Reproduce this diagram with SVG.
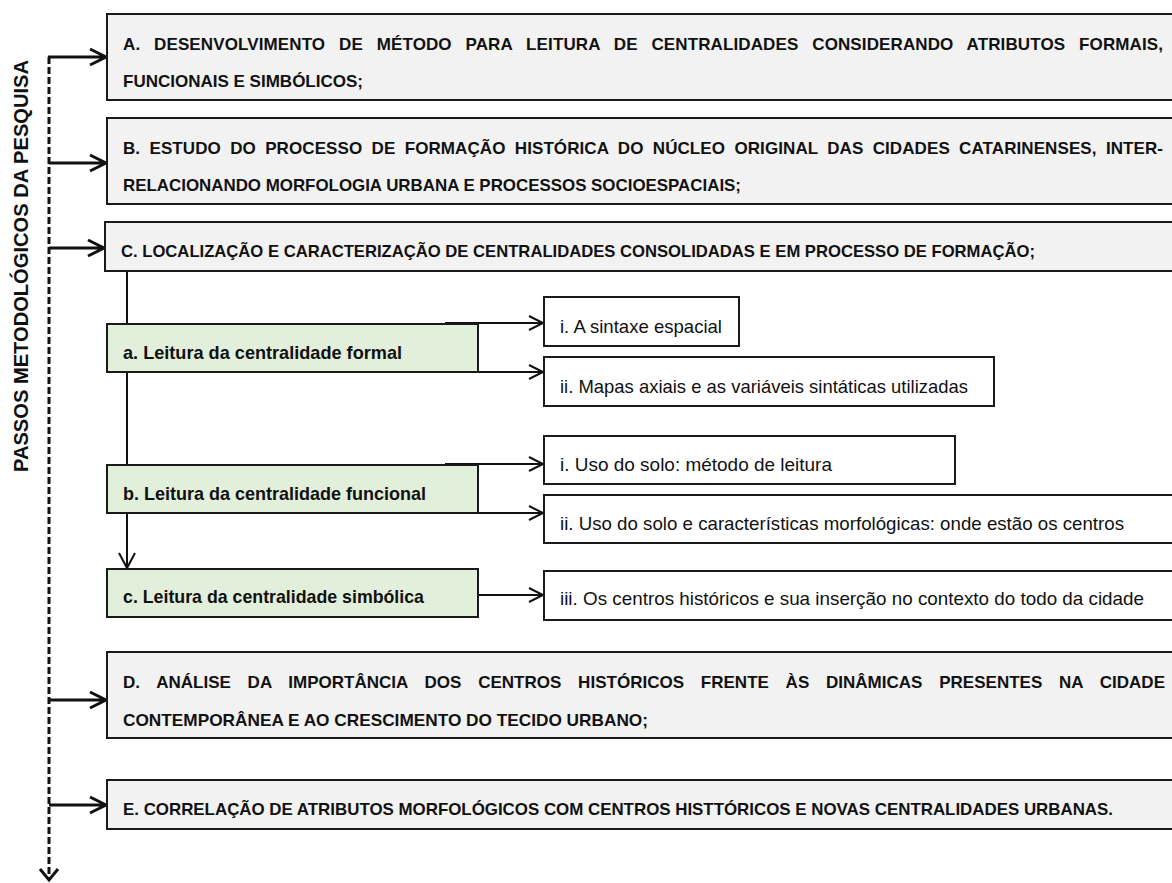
<svg xmlns="http://www.w3.org/2000/svg" width="1172" height="883" viewBox="0 0 1172 883">
<style>
.main{fill:#f2f2f2;stroke:#1a1a1a;stroke-width:2}
.green{fill:#e2efda;stroke:#1a1a1a;stroke-width:2}
.sub{fill:#ffffff;stroke:#1a1a1a;stroke-width:2}
.cap{font-family:"Liberation Sans",Arial,sans-serif;font-weight:bold;font-size:17px;fill:#111}
.gt{font-family:"Liberation Sans",Arial,sans-serif;font-weight:bold;font-size:19px;fill:#111}
.st{font-family:"Liberation Sans",Arial,sans-serif;font-size:19px;fill:#111}
.lbl{font-family:"Liberation Sans",Arial,sans-serif;font-weight:bold;font-size:21px;fill:#111}
.thick{fill:none;stroke:#111;stroke-width:3}
.thin{fill:none;stroke:#111;stroke-width:2}
.dash{fill:none;stroke:#111;stroke-width:3;stroke-dasharray:7 3}
</style>
<rect width="1172" height="883" fill="#ffffff"/>
<g id="label">
<text class="lbl" transform="translate(28,472) rotate(-90)" textLength="412" lengthAdjust="spacingAndGlyphs">PASSOS METODOLÓGICOS DA PESQUISA</text>
</g>
<g id="connectors">
<path class="dash" d="M49,57 V879"/>
<path class="thick" d="M40,869 L49,880 L58,869"/>
<path class="thick" d="M48,57 H105 M90,49 L106,57 L90,65"/>
<path class="thick" d="M49,163 H105 M90,155 L106,163 L90,171"/>
<path class="thick" d="M49,248 H103 M88,240 L104,248 L88,256"/>
<path class="thick" d="M49,700 H105 M90,692 L106,700 L90,708"/>
<path class="thick" d="M49,805 H105 M90,797 L106,805 L90,813"/>
<path class="thin" d="M127,271 V324 M127,372 V465 M127,513 V567 M119,553 L127,568 L135,553"/>
<path class="thin" d="M445,323 H542 M529,316 L543,323 L529,330"/>
<path class="thin" d="M445,372 H542 M529,365 L543,372 L529,379"/>
<path class="thin" d="M445,464 H542 M529,457 L543,464 L529,471"/>
<path class="thin" d="M445,513 H542 M529,506 L543,513 L529,520"/>
<path class="thin" d="M478,595 H542 M529,588 L543,595 L529,602"/>
</g>
<g id="nodeA">
<rect class="main" x="107" y="14" width="1080" height="86"/>
<text class="cap" x="123" y="50" word-spacing="9" textLength="1040" lengthAdjust="spacing">A. DESENVOLVIMENTO DE MÉTODO PARA LEITURA DE CENTRALIDADES CONSIDERANDO ATRIBUTOS FORMAIS,</text>
<text class="cap" x="123" y="87" textLength="240" lengthAdjust="spacingAndGlyphs">FUNCIONAIS E SIMBÓLICOS;</text>
</g>
<g id="nodeB">
<rect class="main" x="107" y="118" width="1080" height="86"/>
<text class="cap" x="123" y="154" word-spacing="4.5" textLength="1040" lengthAdjust="spacing">B. ESTUDO DO PROCESSO DE FORMAÇÃO HISTÓRICA DO NÚCLEO ORIGINAL DAS CIDADES CATARINENSES, INTER-</text>
<text class="cap" x="123" y="191" textLength="618" lengthAdjust="spacingAndGlyphs">RELACIONANDO MORFOLOGIA URBANA E PROCESSOS SOCIOESPACIAIS;</text>
</g>
<g id="nodeC">
<rect class="main" x="105" y="222" width="1082" height="49"/>
<text class="cap" x="121" y="257" textLength="914" lengthAdjust="spacingAndGlyphs">C. LOCALIZAÇÃO E CARACTERIZAÇÃO DE CENTRALIDADES CONSOLIDADAS E EM PROCESSO DE FORMAÇÃO;</text>
</g>
<g id="node-a">
<rect class="green" x="107" y="324" width="371" height="48"/>
<text class="gt" x="123" y="359" textLength="279" lengthAdjust="spacingAndGlyphs">a. Leitura da centralidade formal</text>
</g>
<g id="node-b">
<rect class="green" x="107" y="465" width="371" height="48"/>
<text class="gt" x="123" y="500" textLength="303" lengthAdjust="spacingAndGlyphs">b. Leitura da centralidade funcional</text>
</g>
<g id="node-c">
<rect class="green" x="107" y="569" width="371" height="48"/>
<text class="gt" x="123" y="603" textLength="301" lengthAdjust="spacingAndGlyphs">c. Leitura da centralidade simbólica</text>
</g>
<g id="node-a-i">
<rect class="sub" x="544" y="297" width="195" height="49"/>
<text class="st" x="560" y="333" textLength="162" lengthAdjust="spacingAndGlyphs">i. A sintaxe espacial</text>
</g>
<g id="node-a-ii">
<rect class="sub" x="544" y="357" width="450" height="49"/>
<text class="st" x="560" y="393" textLength="408" lengthAdjust="spacingAndGlyphs">ii. Mapas axiais e as variáveis sintáticas utilizadas</text>
</g>
<g id="node-b-i">
<rect class="sub" x="544" y="436" width="411" height="48"/>
<text class="st" x="560" y="471" textLength="272" lengthAdjust="spacingAndGlyphs">i. Uso do solo: método de leitura</text>
</g>
<g id="node-b-ii">
<rect class="sub" x="544" y="495" width="640" height="48"/>
<text class="st" x="560" y="530" textLength="564" lengthAdjust="spacingAndGlyphs">ii. Uso do solo e características morfológicas: onde estão os centros</text>
</g>
<g id="node-c-iii">
<rect class="sub" x="544" y="571" width="640" height="49"/>
<text class="st" x="560" y="605" textLength="584" lengthAdjust="spacingAndGlyphs">iii. Os centros históricos e sua inserção no contexto do todo da cidade</text>
</g>
<g id="nodeD">
<rect class="main" x="107" y="652" width="1080" height="86"/>
<text class="cap" x="123" y="688" word-spacing="12" textLength="1042" lengthAdjust="spacing">D. ANÁLISE DA IMPORTÂNCIA DOS CENTROS HISTÓRICOS FRENTE ÀS DINÂMICAS PRESENTES NA CIDADE</text>
<text class="cap" x="123" y="726" textLength="525" lengthAdjust="spacingAndGlyphs">CONTEMPORÂNEA E AO CRESCIMENTO DO TECIDO URBANO;</text>
</g>
<g id="nodeE">
<rect class="main" x="107" y="780" width="1080" height="49"/>
<text class="cap" x="123" y="815" textLength="990" lengthAdjust="spacingAndGlyphs">E. CORRELAÇÃO DE ATRIBUTOS MORFOLÓGICOS COM CENTROS HISTTÓRICOS E NOVAS CENTRALIDADES URBANAS.</text>
</g>
</svg>
